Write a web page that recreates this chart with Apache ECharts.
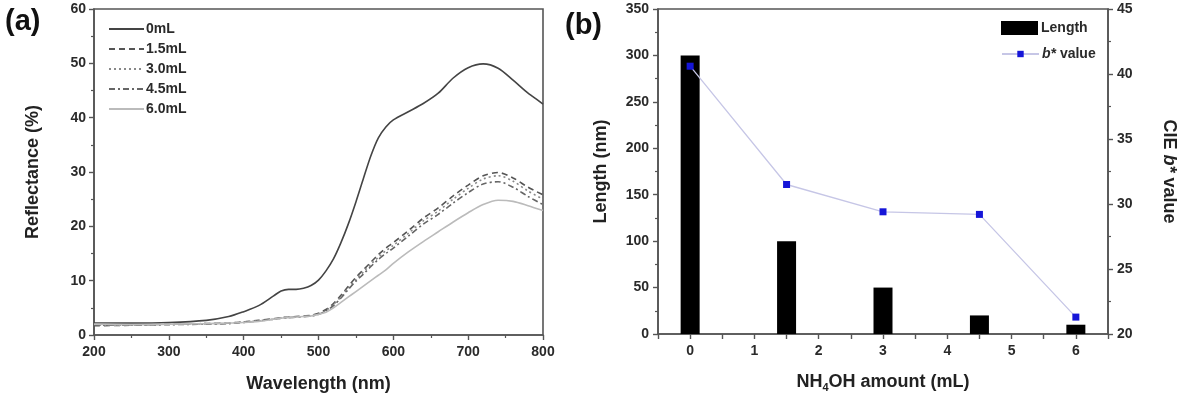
<!DOCTYPE html>
<html>
<head>
<meta charset="utf-8">
<script src="https://cdn.jsdelivr.net/npm/echarts@6/dist/echarts.min.js"></script>
<style>
  html, body { margin: 0; padding: 0; background: #fff; }
  #chart { width: 1187px; height: 398px; }
</style>
</head>
<body>
<div id="chart"></div>
<script>
// (a) reflectance spectra
const wavelengths = [200, 250, 300, 350, 380, 400, 420, 440, 450, 460, 470, 480, 490, 500, 510, 520, 530, 540, 550, 560, 570, 580, 590, 600, 620, 640, 660, 680, 700, 720, 740, 760, 780, 800]
const r0 = [2.2, 2.2, 2.3, 2.7, 3.4, 4.3, 5.4, 7.2, 8.1, 8.4, 8.4, 8.6, 9.1, 10.1, 11.8, 14.0, 17.0, 20.5, 24.5, 28.8, 33.0, 36.3, 38.3, 39.6, 41.1, 42.6, 44.5, 47.3, 49.2, 49.9, 49.1, 46.9, 44.5, 42.5]
const r15 = [1.7, 1.8, 2.0, 2.1, 2.2, 2.4, 2.7, 3.0, 3.2, 3.3, 3.4, 3.5, 3.6, 4.0, 4.7, 5.8, 7.3, 9.0, 10.6, 12.0, 13.4, 14.8, 16.0, 17.0, 19.2, 21.5, 23.4, 25.6, 27.6, 29.3, 29.9, 28.9, 27.2, 25.8]
const r30 = [1.8, 1.8, 2.0, 2.1, 2.2, 2.4, 2.6, 2.9, 3.1, 3.2, 3.3, 3.4, 3.5, 3.9, 4.5, 5.6, 7.0, 8.7, 10.2, 11.6, 13.0, 14.3, 15.5, 16.5, 18.7, 21.0, 22.8, 25.0, 27.0, 28.7, 29.3, 28.3, 26.5, 25.0]
const r45 = [1.8, 1.8, 1.9, 2.0, 2.1, 2.3, 2.6, 2.9, 3.1, 3.2, 3.3, 3.4, 3.5, 3.8, 4.4, 5.4, 6.8, 8.4, 9.9, 11.2, 12.6, 13.9, 15.0, 16.0, 18.2, 20.4, 22.2, 24.3, 26.2, 27.8, 28.2, 27.2, 25.5, 24.0]
const r60 = [2.0, 1.9, 2.0, 2.1, 2.2, 2.3, 2.5, 2.9, 3.1, 3.2, 3.3, 3.4, 3.5, 3.8, 4.2, 5.0, 6.0, 7.0, 8.0, 9.0, 10.0, 11.0, 12.0, 13.2, 15.3, 17.2, 19.0, 20.8, 22.5, 24.0, 24.8, 24.6, 23.8, 22.9]

// (b) length and b* value
const amounts = [0, 1.5, 3, 4.5, 6]
const lengths = [300, 100, 50, 20, 10]
const bValues = [40.6, 31.5, 29.4, 29.2, 21.3]

const font = 'Liberation Sans, Arial, sans-serif'
const axisColor = '#555'

const pair = (xs, ys) => xs.map((x, i) => [x, ys[i]])

function spectrum (name, values, color, type) {
  return {
    name: name,
    type: 'line',
    xAxisIndex: 0,
    yAxisIndex: 0,
    data: pair(wavelengths, values),
    smooth: 0.3,
    symbol: 'none',
    lineStyle: { color: color, width: 1.6, type: type },
    itemStyle: { color: color }
  }
}

const tickLabel = { color: '#2a2a2a', fontFamily: font, fontWeight: 'bold', fontSize: 14 }
const axisName = { color: '#222', fontFamily: font, fontWeight: 'bold', fontSize: 18 }
const legendText = { fontFamily: font, fontWeight: 'bold', fontSize: 14, color: '#2a2a2a' }
const line = { show: true, onZero: false, lineStyle: { color: axisColor, width: 1.6 } }
const tick = { show: true, inside: false, length: 5, lineStyle: { color: axisColor, width: 1.4 } }
const minor = { show: true, splitNumber: 2, length: 3, lineStyle: { color: axisColor, width: 1.2 } }

const chart = echarts.init(document.getElementById('chart'), null, { renderer: 'canvas' })

chart.setOption({
  backgroundColor: '#fff',
  animation: false,
  title: [
    { text: '(a)', left: 0, top: 2, textStyle: { fontFamily: font, fontWeight: 'bold', fontSize: 29, color: '#111' } },
    { text: '(b)', left: 560, top: 6, textStyle: { fontFamily: font, fontWeight: 'bold', fontSize: 29, color: '#111' } }
  ],
  legend: [
    {
      orient: 'vertical',
      left: 103,
      top: 17,
      itemWidth: 35,
      itemHeight: 14,
      itemGap: 6,
      itemStyle: { opacity: 0 },
      textStyle: Object.assign({ padding: [0, 0, 0, -3] }, legendText),
      data: ['0mL', '1.5mL', '3.0mL', '4.5mL', '6.0mL']
    },
    {
      orient: 'vertical',
      left: 996,
      top: 16,
      itemWidth: 37,
      itemHeight: 14,
      textStyle: Object.assign({ padding: [0, 0, 0, -2] }, legendText),
      data: [{ name: 'Length', icon: 'rect' }]
    },
    {
      orient: 'vertical',
      left: 996,
      top: 42,
      itemWidth: 37,
      itemHeight: 8,
      textStyle: Object.assign({
        padding: [0, 0, 0, -2],
        rich: { i: Object.assign({ fontStyle: 'italic' }, legendText) }
      }, legendText),
      formatter: n => n === 'b* value' ? '{i|b*} value' : n,
      data: ['b* value']
    }
  ],
  grid: [
    { left: 94, right: 644, top: 9, bottom: 61, show: true, borderColor: axisColor, borderWidth: 1.6, backgroundColor: 'transparent' },
    { left: 658, right: 79, top: 9, bottom: 57, show: true, borderColor: axisColor, borderWidth: 1.6, backgroundColor: 'transparent' }
  ],
  xAxis: [
    {
      gridIndex: 0, type: 'value', min: 200, max: 800, interval: 100,
      name: 'Wavelength (nm)', nameLocation: 'middle', nameGap: 40, nameTextStyle: axisName,
      axisLine: line, axisTick: tick, minorTick: minor, splitLine: { show: false },
      axisLabel: Object.assign({ margin: 10 }, tickLabel)
    },
    {
      gridIndex: 1, type: 'value', min: -0.5, max: 6.5, interval: 0.5,
      name: 'NH{s|4}OH amount (mL)', nameLocation: 'middle', nameGap: 38,
      nameTextStyle: Object.assign({ rich: { s: { fontFamily: font, fontWeight: 'bold', fontSize: 11, color: '#222', verticalAlign: 'bottom', padding: [10, 0, 0, 0] } } }, axisName),
      axisLine: line, axisTick: tick, splitLine: { show: false },
      axisLabel: Object.assign({
        margin: 10,
        formatter: v => (Number.isInteger(v) && v >= 0 && v <= 6) ? String(v) : ''
      }, tickLabel)
    }
  ],
  yAxis: [
    {
      gridIndex: 0, type: 'value', min: 0, max: 60, interval: 10,
      name: 'Reflectance (%)', nameLocation: 'middle', nameGap: 52, nameRotate: 90, nameTextStyle: axisName,
      axisLine: line, axisTick: tick, minorTick: minor, splitLine: { show: false },
      axisLabel: Object.assign({ margin: 8 }, tickLabel)
    },
    {
      gridIndex: 1, type: 'value', min: 0, max: 350, interval: 50,
      name: 'Length (nm)', nameLocation: 'middle', nameGap: 48, nameRotate: 90, nameTextStyle: axisName,
      axisLine: line, axisTick: tick, minorTick: minor, splitLine: { show: false },
      axisLabel: Object.assign({ margin: 9 }, tickLabel)
    },
    {
      gridIndex: 1, type: 'value', position: 'right', min: 20, max: 45, interval: 5,
      name: 'CIE {i|b*} value', nameLocation: 'middle', nameGap: 52, nameRotate: -90,
      nameTextStyle: Object.assign({ rich: { i: { fontStyle: 'italic', fontFamily: font, fontWeight: 'bold', fontSize: 18, color: '#222' } } }, axisName),
      axisLine: line, axisTick: tick, minorTick: minor, splitLine: { show: false },
      axisLabel: Object.assign({ margin: 9 }, tickLabel)
    }
  ],
  series: [
    spectrum('0mL', r0, '#444', 'solid'),
    spectrum('1.5mL', r15, '#555', [6, 4]),
    spectrum('3.0mL', r30, '#888', [2, 3]),
    spectrum('4.5mL', r45, '#666', [6, 3, 2, 3]),
    spectrum('6.0mL', r60, '#bbb', 'solid'),
    {
      name: 'Length',
      type: 'bar',
      xAxisIndex: 1,
      yAxisIndex: 1,
      barWidth: 19,
      data: pair(amounts, lengths),
      itemStyle: { color: '#000' }
    },
    {
      name: 'b* value',
      type: 'line',
      xAxisIndex: 1,
      yAxisIndex: 2,
      data: pair(amounts, bValues),
      symbol: 'rect',
      symbolSize: 7,
      itemStyle: { color: '#1515d8' },
      lineStyle: { color: '#c6c6e6', width: 1.3 }
    }
  ]
})
</script>
</body>
</html>
